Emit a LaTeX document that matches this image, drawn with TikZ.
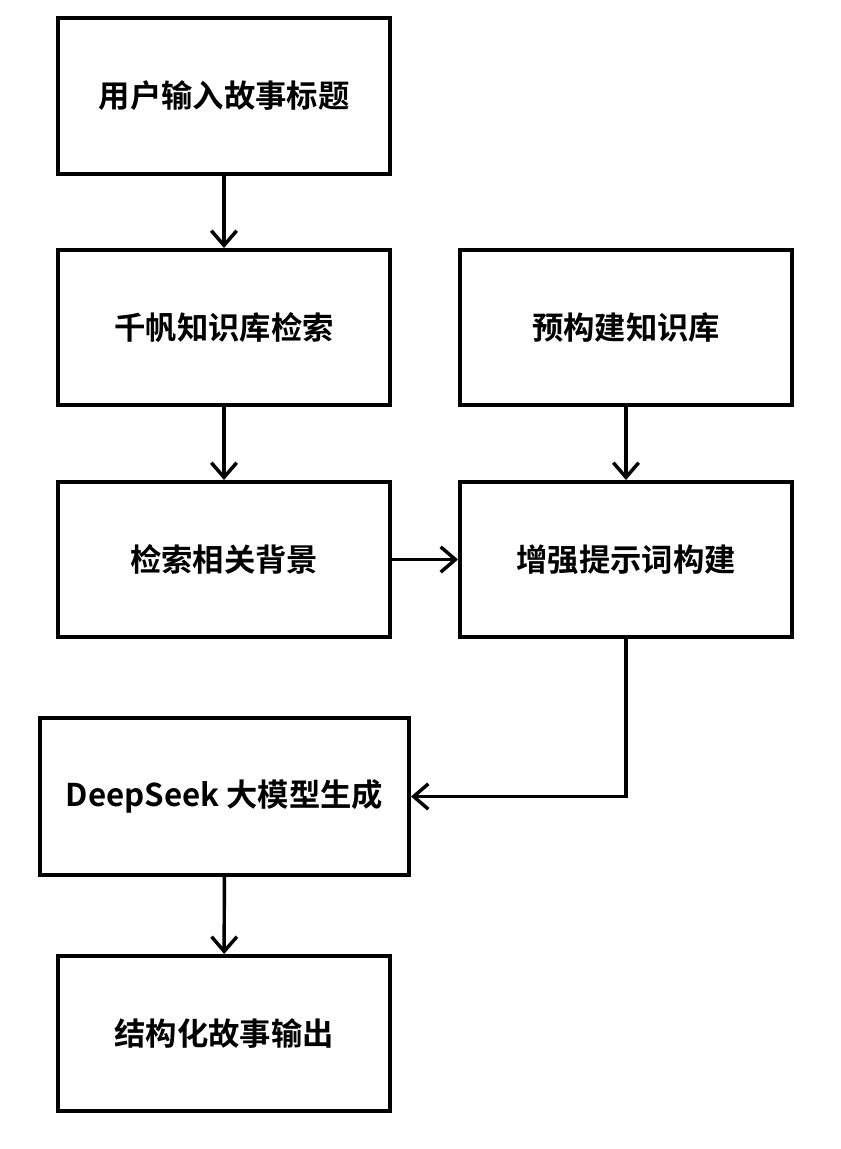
\documentclass[tikz,border=0pt]{standalone}
\usepackage{fontspec}
\setmainfont{Noto Sans CJK SC Bold}
\usetikzlibrary{arrows.meta}
\begin{document}
\begin{tikzpicture}[x=0.75pt,y=-0.75pt,
  box/.style={draw=black,line width=3pt,minimum width=332*0.75pt,minimum height=155*0.75pt,inner sep=0pt,font=\fontsize{23.5pt}{28pt}\selectfont,align=center},
  conn/.style={line width=2.6pt,-{Straight Barb[length=11pt,width=19pt,line width=2.6pt]}}]
\useasboundingbox (0,0) rectangle (841,1149);
\node[box] (b1) at (224,96) {用户输入故事标题};
\node[box] (b2) at (224,327.5) {千帆知识库检索};
\node[box] (b3) at (626,327.5) {预构建知识库};
\node[box] (b4) at (224,559.5) {检索相关背景};
\node[box] (b5) at (626,559.5) {增强提示词构建};
\node[box,minimum width=369*0.75pt,minimum height=157*0.75pt] (b6) at (224.5,796.5) {DeepSeek 大模型生成};
\node[box] (b7) at (224,1033.5) {结构化故事输出};
\draw[conn] (b1) -- (b2);
\draw[conn] (b2) -- (b4);
\draw[conn] (b3) -- (b5);
\draw[conn] (b4) -- (b5);
\draw[conn] (b5.south) |- (b6.east);
\draw[conn] (b6) -- (b7);
\end{tikzpicture}
\end{document}
